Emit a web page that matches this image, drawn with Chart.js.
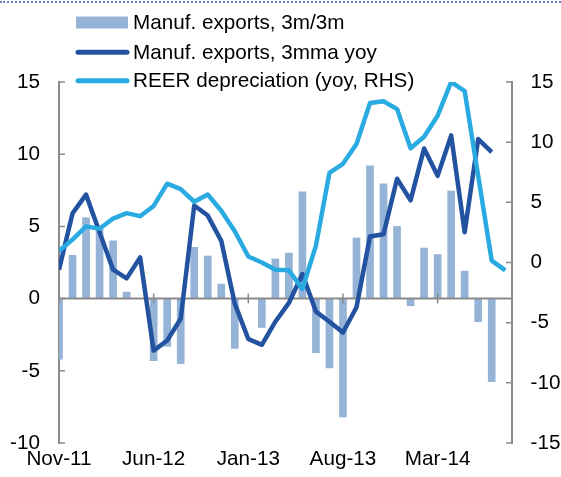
<!DOCTYPE html>
<html>
<head>
<meta charset="utf-8">
<script src="https://cdn.jsdelivr.net/npm/chart.js@4.4.1/dist/chart.umd.min.js"></script>
<style>
  html, body { margin: 0; padding: 0; background: #fff; }
  #wrap { position: relative; width: 561px; height: 477px; overflow: hidden; }
  #dots { position: absolute; left: 0; top: 1px; width: 561px; border-top: 2px dotted #6b7cc0; }
</style>
</head>
<body>
<div id="wrap"><div id="dots"></div><canvas id="chart"></canvas></div>
<script>
// months on the x axis, Nov-11 .. Aug-14
var MONTHS = ['Nov-11','Dec-11','Jan-12','Feb-12','Mar-12','Apr-12','May-12','Jun-12','Jul-12','Aug-12',
  'Sep-12','Oct-12','Nov-12','Dec-12','Jan-13','Feb-13','Mar-13','Apr-13','May-13','Jun-13','Jul-13',
  'Aug-13','Sep-13','Oct-13','Nov-13','Dec-13','Jan-14','Feb-14','Mar-14','Apr-14','May-14','Jun-14',
  'Jul-14','Aug-14'];
var TICK_MONTHS = ['Nov-11','Jun-12','Jan-13','Aug-13','Mar-14'];

// Manuf. exports, 3m/3m (LHS, bars)
var EXP_3M3M = [-4.2, 3.0, 5.6, 4.8, 4.0, 0.45, null, -4.3, -3.3, -4.5, 3.55, 2.95, 1.0, -3.45, null,
  -2.0, 2.75, 3.15, 7.4, -3.75, -4.8, -8.2, 4.2, 9.2, 7.95, 5.0, -0.5, 3.5, 3.05, 7.45, 1.9, -1.6, -5.75, null];
// Manuf. exports, 3mma yoy (LHS)
var EXP_YOY = [2.0, 5.9, 7.2, 4.6, 2.0, 1.4, 2.85, -3.6, -2.9, -1.4, 6.45, 5.75, 4.0, -0.35, -2.8,
  -3.2, -1.6, -0.3, 1.7, -0.9, -1.6, -2.35, -0.6, 4.3, 4.45, 8.3, 6.8, 10.4, 8.5, 11.3, 4.6, 11.05, 10.15, null];
// REER depreciation, yoy (RHS)
var REER_YOY = [0.95, 1.9, 3.0, 2.8, 3.65, 4.1, 3.85, 4.7, 6.55, 6.1, 5.05, 5.65, 4.3, 2.6, 0.5,
  0.0, -0.6, -0.65, -2.2, 1.4, 7.45, 8.2, 9.85, 13.25, 13.4, 12.75, 9.5, 10.45, 12.2, 15.0, 14.25, 7.2, 0.15, -0.65];

var GREY = '#8a8a8a';
var FONT = {family: '"Liberation Sans", Arial, sans-serif', size: 20.7};

var toXY = function (vals) {
  return vals.map(function (v, i) { return {x: i, y: v}; });
};

// axis furniture: zero line, inward ticks on both y axes, x ticks across the zero line
var axisMarks = {
  id: 'axisMarks',
  afterDatasetDraw: function (chart, args) {
    if (args.meta.type !== 'bar') return;
    var ctx = chart.ctx, a = chart.chartArea;
    var x = chart.scales.x, y = chart.scales.y, y1 = chart.scales.y1;
    var y0 = y.getPixelForValue(0);
    ctx.save();
    ctx.strokeStyle = GREY;
    ctx.lineWidth = 2;
    ctx.beginPath();
    ctx.moveTo(a.left, y0); ctx.lineTo(a.right, y0);
    ctx.stroke();
    ctx.lineWidth = 1.5;
    ctx.beginPath();
    y.ticks.forEach(function (t) {
      var py = y.getPixelForValue(t.value);
      ctx.moveTo(a.left, py); ctx.lineTo(a.left + 6, py);
    });
    y1.ticks.forEach(function (t) {
      var py = y1.getPixelForValue(t.value);
      ctx.moveTo(a.right, py); ctx.lineTo(a.right - 6, py);
    });
    x.ticks.forEach(function (t) {
      var px = x.getPixelForValue(t.value);
      ctx.moveTo(px, y0 - 5); ctx.lineTo(px, y0 + 5);
    });
    ctx.stroke();
    ctx.restore();
  }
};

// stacked legend in the top-left, overlapping the plot top
var sideLegend = {
  id: 'sideLegend',
  afterDraw: function (chart) {
    var ctx = chart.ctx;
    var rows = [22.5, 52.3, 80.7];
    ctx.save();
    ctx.font = FONT.size + 'px ' + FONT.family;
    ctx.textBaseline = 'middle';
    ctx.fillStyle = '#000';
    chart.data.datasets.forEach(function (ds, i) {
      var cy = rows[i];
      if (ds.type === 'bar') {
        ctx.fillStyle = ds.backgroundColor;
        ctx.fillRect(76, cy - 6, 52, 12);
      } else {
        ctx.strokeStyle = ds.borderColor;
        ctx.lineWidth = 5;
        ctx.lineCap = 'round';
        ctx.beginPath();
        ctx.moveTo(78, cy); ctx.lineTo(127, cy);
        ctx.stroke();
      }
      ctx.fillStyle = '#000';
      ctx.fillText(ds.label, 133, cy + 1);
    });
    ctx.restore();
  }
};

new Chart(document.getElementById('chart'), {
  type: 'bar',
  data: {
    datasets: [{
      type: 'bar', label: 'Manuf. exports, 3m/3m',
      data: toXY(EXP_3M3M), yAxisID: 'y',
      backgroundColor: '#95b3d7', barThickness: 7, order: 3,
    }, {
      type: 'line', label: 'Manuf. exports, 3mma yoy',
      data: toXY(EXP_YOY), yAxisID: 'y',
      borderColor: '#2252a0', borderWidth: 4.5, pointRadius: 0,
      tension: 0, borderJoinStyle: 'round', spanGaps: false, order: 2,
    }, {
      type: 'line', label: 'REER depreciation (yoy, RHS)',
      data: toXY(REER_YOY), yAxisID: 'y1',
      borderColor: '#29abe2', borderWidth: 4.5, pointRadius: 0,
      tension: 0, borderJoinStyle: 'round', order: 1,
    }]
  },
  options: {
    responsive: true, maintainAspectRatio: false, animation: false,
    layout: {padding: {top: 82, left: 0, right: 0, bottom: 0}},
    plugins: {legend: {display: false}, tooltip: {enabled: false}},
    scales: {
      x: {
        type: 'linear', min: 0, max: 33.5, offset: false,
        grid: {display: false, drawTicks: false, offset: false}, border: {display: false},
        afterBuildTicks: function (s) {
          s.ticks = TICK_MONTHS.map(function (m) { return {value: MONTHS.indexOf(m)}; });
        },
        ticks: {
          autoSkip: false, maxRotation: 0, padding: 4, color: '#000', font: FONT,
          callback: function (v) { return MONTHS[v]; }
        },
        afterFit: function (s) { s.height = 34; }
      },
      y: {
        position: 'left', min: -10, max: 15,
        ticks: {stepSize: 5, padding: 19, color: '#000', font: FONT},
        grid: {display: false, drawTicks: false},
        border: {color: GREY, width: 2},
        afterFit: function (s) { s.width = 59; }
      },
      y1: {
        position: 'right', min: -15, max: 15,
        ticks: {stepSize: 5, padding: 18.5, color: '#000', font: FONT},
        grid: {display: false, drawTicks: false},
        border: {color: GREY, width: 2},
        afterFit: function (s) { s.width = 49; }
      }
    }
  },
  plugins: [axisMarks, sideLegend]
});
</script>
</body>
</html>
